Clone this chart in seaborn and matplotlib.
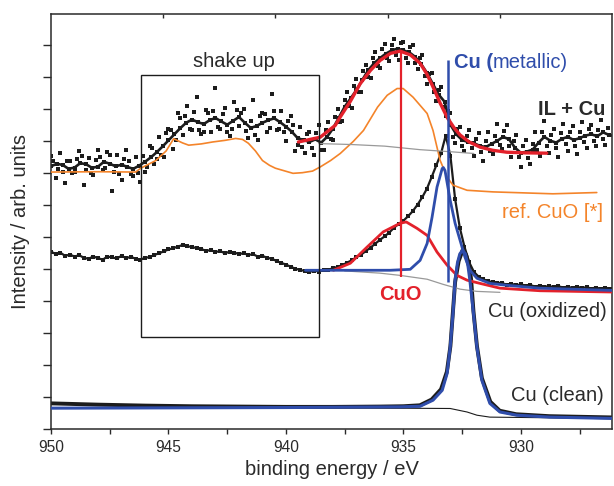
import numpy as np
import matplotlib
matplotlib.use("Agg")
import matplotlib.pyplot as plt
import seaborn as sns
from matplotlib.patches import Rectangle
from matplotlib.ticker import MultipleLocator

# ---------------- IL + Cu (top spectrum) ----------------
# smoothed trace, 0.25 eV steps from 950 to 926 eV
top_line = [8.22, 8.30, 8.26, 8.14, 8.18, 8.32, 8.28, 8.17, 8.21, 8.36, 8.30, 8.22, 8.27, 8.20, 8.14, 8.24, 8.36,
            8.50, 8.66, 8.84, 9.03, 9.22, 9.41, 9.58, 9.68, 9.60, 9.54, 9.66, 9.73, 9.62, 9.52, 9.64, 9.76,
            9.58, 9.42, 9.48, 9.58, 9.66, 9.72, 9.60, 9.46, 9.30, 9.10, 9.04, 8.98, 9.06, 8.96, 9.14, 9.40,
            9.74, 10.08, 10.34, 10.60, 10.92, 11.22, 11.44, 11.60, 11.74, 11.84, 11.90, 11.84, 11.78, 11.64, 11.42, 11.14,
            10.80, 10.46, 10.24, 9.52, 9.22, 9.04, 8.98, 8.94, 8.86, 8.82, 8.92, 9.02, 9.14, 9.06, 8.80, 8.64,
            8.68, 8.74, 8.96, 9.14, 9.02, 8.96, 9.08, 9.14, 9.04, 9.10, 9.18, 9.22, 9.16, 9.28, 9.20, 9.16]
# raw points, 0.2 eV steps from 950 eV
top_points = [8.55, 7.85, 8.62, 7.70, 8.40, 8.05, 8.70, 7.62, 8.48, 7.95, 8.74, 8.10, 8.66, 7.45, 8.56, 7.80,
              8.72, 7.98, 8.52, 7.72, 8.05, 8.84, 8.30, 9.12, 8.52, 9.40, 8.76, 9.88, 9.20, 10.12, 9.35, 10.40,
              9.22, 9.98, 9.30, 10.66, 9.40, 10.05, 9.18, 10.22, 9.48, 10.02, 9.10, 10.30, 9.05, 9.90, 9.28, 10.48,
              9.36, 9.95, 9.02, 9.78, 8.70, 9.46, 8.62, 9.30, 8.58, 9.52, 8.72, 9.60, 9.05, 10.00, 9.62, 10.55,
              10.05, 10.95, 10.55, 11.40, 10.98, 11.80, 11.30, 12.05, 11.50, 12.20, 11.55, 12.10, 11.45, 12.00, 11.25, 11.70,
              10.80, 11.15, 10.25, 10.70, 9.80, 9.90, 8.95, 9.45, 8.70, 9.35, 8.55, 9.25, 8.40, 9.30, 8.60, 9.55,
              8.75, 9.50, 8.50, 9.20, 8.20, 9.05, 8.30, 9.30, 8.55, 9.65, 8.62, 9.40, 8.50, 9.55, 8.70, 9.48,
              8.60, 9.60, 8.78, 9.52, 8.85, 9.66, 8.90]
# more raw points, 0.2 eV steps from 949.9 eV
top_points_b = [8.40, 8.12, 8.05, 8.38, 8.02, 8.46, 8.55, 8.10, 8.00, 8.42, 8.50, 8.18, 8.58, 8.04, 7.98, 8.46,
                8.40, 7.92, 8.00, 8.55, 8.20, 8.78, 8.45, 8.58, 9.25, 9.34, 9.05, 9.72, 9.80, 9.40, 9.92, 9.36,
                9.30, 9.90, 9.95, 9.45, 9.85, 9.28, 9.38, 9.98, 9.90, 9.32, 9.64, 9.20, 9.80, 9.86, 9.42, 9.95,
                9.40, 9.30, 9.62, 9.50, 8.88, 8.82, 9.22, 8.80, 9.25, 8.74, 9.35, 9.08, 9.75, 9.60, 10.30, 10.10,
                10.72, 10.55, 11.20, 11.02, 11.62, 11.36, 11.88, 11.60, 12.02, 11.70, 12.06, 11.62, 11.95, 11.45, 11.62, 11.05,
                11.10, 10.55, 10.62, 10.08, 9.95, 9.15, 9.38, 8.85, 9.18, 8.78, 9.08, 8.66, 9.02, 8.70, 9.18, 8.88,
                9.32, 8.86, 9.02, 8.50, 8.85, 8.48, 8.92, 8.72, 9.28, 8.86, 9.20, 8.78, 9.25, 8.92, 9.30, 8.85,
                9.28, 8.98, 9.40, 9.00, 9.36, 9.08, 9.42]
top_fit_ev = [939.47, 938.54, 937.9, 937.69, 937.26, 936.84, 936.4, 935.99, 935.55, 935.14, 934.7, 934.29,
              934.0, 933.74, 933.44, 933.14, 932.85, 932.59, 932.2, 931.74, 931.2, 930.6, 929.8, 928.9]
top_fit = [8.98, 9.13, 9.50, 9.76, 10.25, 10.80, 11.22, 11.53, 11.75, 11.82, 11.70, 11.44,
           11.10, 10.70, 10.20, 9.75, 9.43, 9.20, 8.98, 8.82, 8.72, 8.66, 8.64, 8.63]
top_bg_ev = [938.6, 937.2, 935.8, 934.3, 932.9, 932.0]
top_bg = [8.93, 8.90, 8.85, 8.74, 8.67, 8.62]

# reference CuO spectrum
ref_ev = [950.0, 948.0, 946.4, 946.18, 945.54, 945.1, 944.78, 944.4, 944.14, 943.6, 943.12, 942.6, 942.14,
          941.85, 941.6, 941.3, 941.0, 940.7, 940.45, 939.7, 939.3, 938.87, 938.54, 938.1, 937.69, 937.13,
          936.7, 936.1, 935.69, 935.27, 935.01, 934.59, 933.99, 933.74, 933.44, 933.14, 932.89, 932.29,
          931.19, 928.64, 926.77]
ref_cuo = [8.04, 8.05, 8.04, 8.16, 8.40, 8.70, 9.08, 8.95, 8.88, 8.92, 8.98, 9.03, 9.09,
           9.06, 8.94, 8.70, 8.40, 8.25, 8.16, 8.00, 8.02, 8.07, 8.20, 8.40, 8.62, 9.00,
           9.34, 10.07, 10.44, 10.65, 10.65, 10.38, 9.87, 9.34, 8.41, 7.88, 7.63, 7.47,
           7.42, 7.36, 7.40]

# ---------------- Cu (oxidized) ----------------
# 0.2 eV steps from 950 eV
ox_data = [5.55, 5.48, 5.52, 5.42, 5.46, 5.40, 5.44, 5.36, 5.33, 5.40, 5.35, 5.30, 5.40, 5.37, 5.34, 5.42,
           5.35, 5.39, 5.33, 5.30, 5.36, 5.38, 5.45, 5.50, 5.56, 5.62, 5.66, 5.71, 5.76, 5.72, 5.70, 5.66,
           5.63, 5.58, 5.60, 5.54, 5.57, 5.50, 5.55, 5.52, 5.48, 5.50, 5.45, 5.47, 5.40, 5.42, 5.36, 5.33,
           5.26, 5.20, 5.15, 5.08, 5.02, 4.98, 4.95, 4.92, 4.96, 4.93, 4.97, 4.99, 5.03, 5.08, 5.13, 5.21,
           5.28, 5.38, 5.46, 5.57, 5.68, 5.80, 5.92, 6.03, 6.15, 6.30, 6.42, 6.52, 6.66, 6.82, 7.02, 7.25,
           7.52, 7.88, 8.25, 8.62, 9.18, 8.55, 7.20, 6.30, 5.70, 5.22, 4.92, 4.77, 4.69, 4.63, 4.60, 4.58,
           4.57, 4.52, 4.55, 4.50, 4.53, 4.49, 4.51, 4.46, 4.49, 4.45, 4.48, 4.44, 4.47, 4.43, 4.46, 4.41,
           4.45, 4.42, 4.44, 4.40, 4.43, 4.39, 4.42, 4.40]
ox_cuo_ev = [937.98, 937.26, 936.54, 935.86, 935.14, 934.88, 934.42, 933.99, 933.57, 933.14, 932.72,
             932.29, 931.74, 930.89, 929.19, 926.1]
ox_cuo = [4.97, 5.19, 5.70, 6.17, 6.44, 6.48, 6.28, 6.06, 5.54, 5.13, 4.81,
          4.66, 4.56, 4.41, 4.33, 4.29]
ox_met_ev = [939.17, 935.56, 934.71, 934.29, 933.99, 933.78, 933.57, 933.35, 933.3, 933.23, 933.01,
             932.8, 932.59, 932.38, 932.17, 931.87, 931.32, 930.59, 929.19, 926.1]
ox_met = [4.97, 4.97, 5.00, 5.28, 5.81, 6.63, 7.57, 8.15, 8.18, 8.09, 7.16,
          6.44, 5.91, 5.38, 4.97, 4.72, 4.56, 4.50, 4.41, 4.34]
ox_bg_ev = [937.5, 936.0, 935.14, 933.99, 933.31, 932.59, 931.87, 930.89]
ox_bg = [4.95, 4.88, 4.81, 4.69, 4.53, 4.38, 4.31, 4.28]

# ---------------- Cu (clean) ----------------
clean_ev = [950.0, 948.0, 946.0, 944.0, 942.0, 940.0, 938.0, 936.0, 935.0, 934.3, 933.8, 933.4, 933.15,
            933.0, 932.9, 932.8, 932.65, 932.48, 932.33, 932.2, 932.12, 932.02, 931.87, 931.66, 931.3,
            930.9, 930.2, 928.8, 926.1]
clean_data = [0.81, 0.77, 0.74, 0.72, 0.71, 0.70, 0.70, 0.71, 0.72, 0.75, 0.93, 1.25, 1.80,
              2.60, 3.60, 4.60, 5.25, 5.60, 5.45, 5.10, 4.70, 3.70, 2.60, 1.60, 0.86,
              0.58, 0.47, 0.41, 0.37]
clean_fit_ev = [950.0, 945.0, 940.0, 935.14, 934.29, 933.74, 933.35, 933.14, 933.01, 932.89, 932.8,
                932.7, 932.6, 932.48, 932.36, 932.26, 932.17, 932.02, 931.87, 931.66, 931.32, 930.89,
                930.17, 928.77, 926.1]
clean_fit = [0.66, 0.67, 0.68, 0.70, 0.72, 0.91, 1.22, 1.75, 2.56, 3.63, 4.66,
             5.20, 5.48, 5.60, 5.48, 5.15, 4.66, 3.63, 2.56, 1.53, 0.81, 0.54,
             0.44, 0.38, 0.34]
clean_bg_ev = [938.0, 935.48, 933.01, 932.29, 931.87, 931.32, 928.77, 926.05]
clean_bg = [0.68, 0.66, 0.65, 0.54, 0.44, 0.38, 0.36, 0.34]

# peak markers and shake-up box
cuo_pos, cuo_span = 935.1, (4.75, 11.82)
met_pos, met_span = 933.12, (4.6, 11.55)
box_ev = (946.18, 938.58)
box_y = (2.875, 11.06)

RED = "#e3212b"
BLUE = "#2f4dab"
ORANGE = "#f4842a"
GRAY = "#999999"
INK = "#1c1c1c"
TXT = "#2a2a2a"

sns.set_style("ticks")
plt.rcParams["font.family"] = ["Liberation Sans", "DejaVu Sans"]

fig = plt.figure(figsize=(6.14, 4.86), dpi=100)
ax = fig.add_axes([0.0831, 0.1167, 0.9137, 0.8545])


def line(x, y, **kw):
    sns.lineplot(x=x, y=y, ax=ax, sort=False, estimator=None, legend=False, **kw)


# top spectrum
top_ev = np.linspace(950, 926, len(top_line))
pts_ev = 950 - 0.2 * np.arange(len(top_points))
pts_ev_b = 949.9 - 0.2 * np.arange(len(top_points_b))
sns.scatterplot(x=pts_ev, y=top_points, ax=ax, color=INK, marker="s", s=7, linewidth=0, zorder=2)
sns.scatterplot(x=pts_ev_b, y=top_points_b, ax=ax, color=INK, marker="s", s=7, linewidth=0, zorder=2)
line(top_ev, top_line, color=INK, linewidth=1.9, marker="s", markersize=3,
     markeredgewidth=0, zorder=2)
line(ref_ev, ref_cuo, color=ORANGE, linewidth=1.2, zorder=3)
line(top_bg_ev, top_bg, color=GRAY, linewidth=0.9, zorder=3)
line(top_fit_ev, top_fit, color=RED, linewidth=2.4, zorder=4)

# oxidized spectrum
ox_ev = 950 - 0.2 * np.arange(len(ox_data))
line(ox_ev, ox_data, color=INK, linewidth=1.6, marker="s", markersize=2.8,
     markeredgewidth=0, zorder=2)
line(ox_bg_ev, ox_bg, color=GRAY, linewidth=0.9, zorder=3)
line(ox_cuo_ev, ox_cuo, color=RED, linewidth=2.0, zorder=4)
line(ox_met_ev, ox_met, color=BLUE, linewidth=2.0, zorder=5)

# clean spectrum
line(clean_ev, clean_data, color=INK, linewidth=2.8, zorder=2)
line(clean_bg_ev, clean_bg, color=INK, linewidth=0.8, zorder=3)
line(clean_fit_ev, clean_fit, color=BLUE, linewidth=2.2, zorder=5)

# peak position markers
ax.vlines(cuo_pos, *cuo_span, color=RED, linewidth=1.6, zorder=6)
ax.vlines(met_pos, *met_span, color=BLUE, linewidth=1.8, zorder=6)

ax.add_patch(Rectangle((box_ev[0], box_y[0]), box_ev[1] - box_ev[0], box_y[1] - box_y[0],
                       fill=False, edgecolor=INK, linewidth=1.0, zorder=7))

fs = 14.5
ax.text(942.23, 11.48, "shake up", fontsize=fs, color=TXT, ha="center", va="center")
t1 = ax.text(932.85, 11.45, "Cu (", fontsize=fs, color=BLUE, fontweight="bold", ha="left", va="center")
ax.annotate("metallic)", xy=(1, 0), xycoords=t1, fontsize=fs, color=BLUE, ha="left", va="bottom")
ax.text(929.28, 9.98, "IL + Cu", fontsize=fs, color=TXT, fontweight="bold", ha="left", va="center")
ax.text(930.81, 6.79, "ref. CuO [*]", fontsize=fs, color=ORANGE, ha="left", va="center")
ax.text(935.15, 4.2, "CuO", fontsize=fs, color=RED, fontweight="bold", ha="center", va="center")
ax.text(931.4, 3.68, "Cu (oxidized)", fontsize=fs, color=TXT, ha="left", va="center")
ax.text(930.4, 1.07, "Cu (clean)", fontsize=fs, color=TXT, ha="left", va="center")

ax.set_xlim(950, 926.12)
ax.set_ylim(0, 12.98)
ax.set_xticks([950, 945, 940, 935, 930])
ax.set_xticklabels(["950", "945", "940", "935", "930"])
ax.xaxis.set_minor_locator(MultipleLocator(2.5))
ax.set_yticks(range(13))
ax.set_yticklabels([])
ax.tick_params(axis="x", which="both", direction="out", length=3.6, width=1.0,
               labelsize=11.2, colors=TXT, pad=4, top=False)
ax.tick_params(axis="y", direction="out", length=5.8, width=1.0, colors=TXT, right=False)
ax.set_xlabel("binding energy / eV", fontsize=fs, color=TXT, labelpad=4)
ax.set_ylabel("Intensity / arb. units", fontsize=fs, color=TXT, labelpad=6)
for sp in ax.spines.values():
    sp.set_visible(True)
    sp.set_color(TXT)
    sp.set_linewidth(1.1)

# top axis carries its own evenly spaced inward ticks
axt = ax.twiny()
axt.set_xlim(0, 5)
axt.set_xticks([1, 2, 3, 4])
axt.set_xticklabels([])
axt.tick_params(axis="x", direction="in", length=3.2, width=1.0, colors=TXT)
for sp in axt.spines.values():
    sp.set_visible(False)

fig.savefig("out.png", dpi=100)
